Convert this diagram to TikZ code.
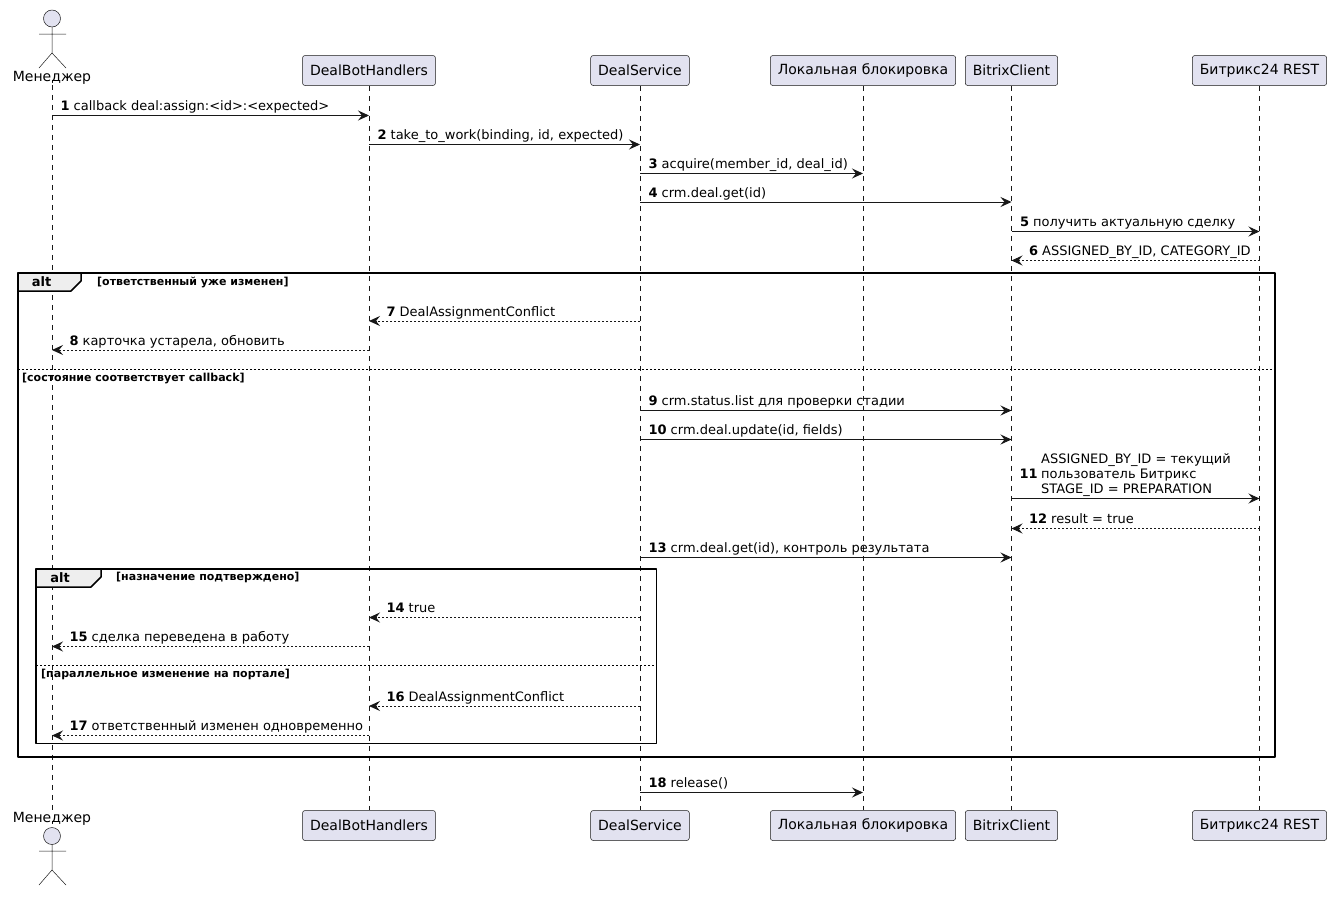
\documentclass[tikz,border=0pt]{standalone}
\usepackage{fontspec}
\setmainfont{DejaVu Sans}
\usetikzlibrary{arrows.meta}
\definecolor{pbox}{HTML}{E2E2F0}
\definecolor{pline}{HTML}{181818}
\definecolor{ptab}{HTML}{EEEEEE}
\tikzset{part/.style={draw=pline,fill=pbox,rounded corners=2.5pt,line width=.5pt,inner xsep=7.5pt,minimum height=30pt,font=\fontsize{14}{14}\selectfont}}
\tikzset{who/.style={inner sep=0pt,font=\fontsize{14}{14}\selectfont}}
\tikzset{life/.style={draw=pline,line width=.5pt,dash pattern=on 5pt off 5pt}}
\tikzset{msg/.style={draw=pline,line width=1pt,-{Stealth[length=11pt,width=10pt,inset=4pt]}}}
\tikzset{ret/.style={msg,dash pattern=on 2pt off 2pt}}
\tikzset{l/.style={anchor=base west,inner sep=0pt,font=\fontsize{13}{15}\selectfont}}
\tikzset{g/.style={draw=black,line width=1.5pt}}
\tikzset{sep/.style={draw=black,line width=1pt,dash pattern=on 2pt off 2pt}}
\tikzset{c/.style={anchor=west,inner sep=0pt,font=\bfseries\fontsize{11}{11}\selectfont}}
\tikzset{a/.style={inner sep=0pt,font=\bfseries\fontsize{13}{13}\selectfont}}

\begin{document}
\begin{tikzpicture}[line join=round,x=1pt,y=-1pt]
  \useasboundingbox (0,0) rectangle (1336,897);
  % participants
  \node[who] (mgr) at (52,78) {Менеджер};
  \node[part] (dbh) at (369,70.5) {DealBotHandlers};
  \node[part] (ds) at (640,70.5) {DealService};
  \node[part] (lock) at (863,70.5) {Локальная блокировка};
  \node[part] (bc) at (1011.5,70.5) {BitrixClient};
  \node[part] (rest) at (1259.5,70.5) {Битрикс24 REST};
  \node[who] (mgr2) at (52,819) {Менеджер};
  \node[part] (dbh2) at (369,825.5) {DealBotHandlers};
  \node[part] (ds2) at (640,825.5) {DealService};
  \node[part] (lock2) at (863,825.5) {Локальная блокировка};
  \node[part] (bc2) at (1011.5,825.5) {BitrixClient};
  \node[part] (rest2) at (1259.5,825.5) {Битрикс24 REST};
  % actor
  \filldraw[draw=pline,fill=pbox,line width=.5pt](52,18.5) circle (8.5);
  \draw[pline,line width=.5pt](52,27)--(52,53) (39,34)--(66,34) (39,68)--(52,53)--(66,68);
  \filldraw[draw=pline,fill=pbox,line width=.5pt](52,836) circle (8.5);
  \draw[pline,line width=.5pt](52,844.5)--(52,870) (39,851)--(66,851) (39,885)--(52,870)--(66,885);
  % lifelines
  \draw[life] (mgr.south) -- (mgr2.north);
  \draw[life] (dbh.south) -- (dbh2.north);
  \draw[life] (ds.south) -- (ds2.north);
  \draw[life] (lock.south) -- (lock2.north);
  \draw[life] (bc.south) -- (bc2.north);
  \draw[life] (rest.south) -- (rest2.north);
  % frames
  \draw[g] (18,273) rectangle (1275,757);
  \filldraw[g,fill=ptab] (18,273) -- (81,273) -- (81,281) -- (71,291) -- (18,291) -- cycle;
  \node[a] at (41.5,282) {alt};
  \node[c] at (97,282) {[ответственный уже изменен]};
  \draw[sep] (18,369) -- (1275,369);
  \node[c] at (22,378.5) {[состояние соответствует callback]};
  \draw[g] (36,569) rectangle (656.5,743.5);
  \filldraw[g,fill=ptab] (36,569) -- (101,569) -- (101,577) -- (91,587) -- (36,587) -- cycle;
  \node[a] at (60,577.5) {alt};
  \node[c] at (116,577.5) {[назначение подтверждено]};
  \draw[sep] (36,665) -- (656.5,665);
  \node[c] at (41,674) {[параллельное изменение на портале]};
  % messages
  \draw[msg] (mgr |- 0,115.5) -- (dbh |- 0,115.5) node[l,pos=0,xshift=8pt,yshift=5pt] {\textbf{1} callback deal:assign:<id>:<expected>};
  \draw[msg] (dbh |- 0,144.5) -- (ds |- 0,144.5) node[l,pos=0,xshift=8pt,yshift=5pt] {\textbf{2} take\_to\_work(binding, id, expected)};
  \draw[msg] (ds |- 0,173.5) -- (lock |- 0,173.5) node[l,pos=0,xshift=8pt,yshift=5pt] {\textbf{3} acquire(member\_id, deal\_id)};
  \draw[msg] (ds |- 0,202) -- (bc |- 0,202) node[l,pos=0,xshift=8pt,yshift=5pt] {\textbf{4} crm.deal.get(id)};
  \draw[msg] (bc |- 0,231.5) -- (rest |- 0,231.5) node[l,pos=0,xshift=8pt,yshift=5pt] {\textbf{5} получить актуальную сделку};
  \draw[ret] (rest |- 0,260.5) -- (bc |- 0,260.5) node[l,pos=1,xshift=17pt,yshift=5pt] {\textbf{6} ASSIGNED\_BY\_ID, CATEGORY\_ID};
  \draw[ret] (ds |- 0,321) -- (dbh |- 0,321) node[l,pos=1,xshift=17pt,yshift=5pt] {\textbf{7} DealAssignmentConflict};
  \draw[ret] (dbh |- 0,350) -- (mgr |- 0,350) node[l,pos=1,xshift=17pt,yshift=5pt] {\textbf{8} карточка устарела, обновить};
  \draw[msg] (ds |- 0,410.5) -- (bc |- 0,410.5) node[l,pos=0,xshift=8pt,yshift=5pt] {\textbf{9} crm.status.list для проверки стадии};
  \draw[msg] (ds |- 0,439.5) -- (bc |- 0,439.5) node[l,pos=0,xshift=8pt,yshift=5pt] {\textbf{10} crm.deal.update(id, fields)};
  \draw[msg] (bc |- 0,498.5) -- (rest |- 0,498.5) node[l,pos=0,xshift=7.5pt,yshift=20pt] {\textbf{11}};
  \node[l,align=left] at (1041,493.5) {ASSIGNED\_BY\_ID = текущий\\пользователь Битрикс\\STAGE\_ID = PREPARATION};
  \draw[ret] (rest |- 0,528.5) -- (bc |- 0,528.5) node[l,pos=1,xshift=17pt,yshift=5pt] {\textbf{12} result = true};
  \draw[msg] (ds |- 0,557.5) -- (bc |- 0,557.5) node[l,pos=0,xshift=8pt,yshift=5pt] {\textbf{13} crm.deal.get(id), контроль результата};
  \draw[ret] (ds |- 0,617.5) -- (dbh |- 0,617.5) node[l,pos=1,xshift=17pt,yshift=5pt] {\textbf{14} true};
  \draw[ret] (dbh |- 0,646.5) -- (mgr |- 0,646.5) node[l,pos=1,xshift=17pt,yshift=5pt] {\textbf{15} сделка переведена в работу};
  \draw[ret] (ds |- 0,706) -- (dbh |- 0,706) node[l,pos=1,xshift=17pt,yshift=5pt] {\textbf{16} DealAssignmentConflict};
  \draw[ret] (dbh |- 0,735.5) -- (mgr |- 0,735.5) node[l,pos=1,xshift=17pt,yshift=5pt] {\textbf{17} ответственный изменен одновременно};
  \draw[msg] (ds |- 0,792.5) -- (lock |- 0,792.5) node[l,pos=0,xshift=8pt,yshift=5pt] {\textbf{18} release()};
\end{tikzpicture}
\end{document}
